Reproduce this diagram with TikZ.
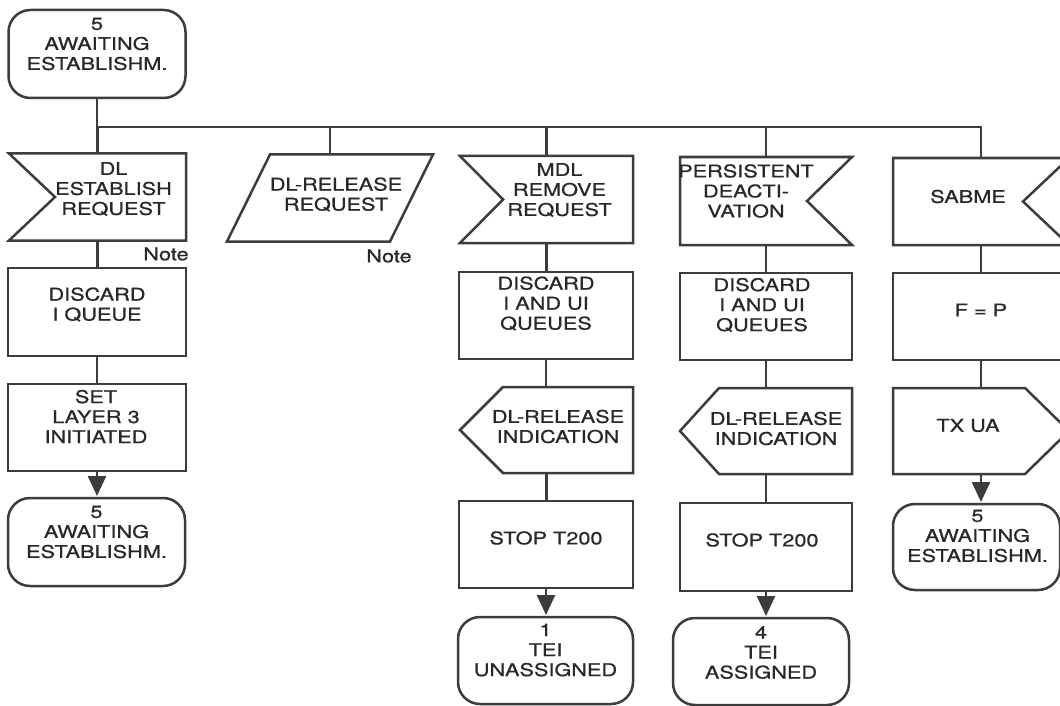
\documentclass[tikz,border=0pt]{standalone}
\usepackage{fontspec}
\setmainfont{TeX Gyre Heros}[FakeStretch=1.24,FakeBold=0.8]
\usetikzlibrary{calc,arrows.meta}
\definecolor{ink}{RGB}{40,40,40}
\definecolor{stroke}{RGB}{60,60,60}

% Outlines of the SDL symbols, drawn around a named (invisible) node.
% #1 = node name, #2 = depth of the notch / point / slant
\newcommand\notchleft[2]{\draw[ln] (#1.north west) -- (#1.north east) -- (#1.south east) -- (#1.south west) -- ($(#1.west)+(#2,0)$) -- cycle;}
\newcommand\notchright[2]{\draw[ln] (#1.north west) -- (#1.north east) -- ($(#1.east)+(-#2,0)$) -- (#1.south east) -- (#1.south west) -- cycle;}
\newcommand\pointleft[2]{\draw[ln] ($(#1.north west)+(#2,0)$) -- (#1.north east) -- (#1.south east) -- ($(#1.south west)+(#2,0)$) -- (#1.west) -- cycle;}
\newcommand\pointright[2]{\draw[ln] (#1.north west) -- ($(#1.north east)+(-#2,0)$) -- (#1.east) -- ($(#1.south east)+(-#2,0)$) -- (#1.south west) -- cycle;}
\newcommand\slanted[2]{\draw[ln] ($(#1.north west)+(#2,0)$) -- (#1.north east) -- ($(#1.south east)+(-#2,0)$) -- (#1.south west) -- cycle;}

\begin{document}
\begin{tikzpicture}[x=1pt,y=-1pt,
  ln/.style={draw=stroke, line width=2.5pt, line join=miter},
  shp/.style={rectangle, inner sep=0pt, outer sep=0pt, draw=none},
  state/.style={shp, ln, rounded corners=22pt},
  task/.style={shp, ln},
  txt/.style={align=center, inner sep=0pt, outer sep=0pt, text=ink,
              font=\fontsize{17.5}{20}\selectfont},
  flow/.style={ln},
  into/.style={ln, -{Triangle[width=18pt,length=20pt]}, shorten >=2pt},
]
\useasboundingbox (0,0) rectangle (1060,706);
\clip (0,0) rectangle (1060,706);

% ---------- symbols ----------
\node[state, minimum width=177, minimum height=88] (s0) at (97,54) {};

\node[shp, minimum width=177, minimum height=87] (i1) at (97.5,197) {};
\node[shp, minimum width=206, minimum height=87] (i2) at (330,198) {};
\node[shp, minimum width=173, minimum height=87] (i3) at (546.5,199.5) {};
\node[shp, minimum width=172, minimum height=88] (i4) at (766,201) {};
\node[shp, minimum width=176, minimum height=87] (i5) at (981,201.5) {};

\node[task, minimum width=178, minimum height=88] (d1) at (97,312) {};
\node[task, minimum width=174, minimum height=87] (d3) at (546,315.5) {};
\node[task, minimum width=172, minimum height=87] (d4) at (766,316.5) {};
\node[task, minimum width=176, minimum height=87] (d5) at (981,316.5) {};

\node[task, minimum width=178, minimum height=87] (e1) at (97,427.5) {};
\node[shp, minimum width=173, minimum height=86] (e3) at (546.5,430) {};
\node[shp, minimum width=172, minimum height=86] (e4) at (766,431) {};
\node[shp, minimum width=176, minimum height=86] (e5) at (981,431) {};

\node[state, minimum width=177, minimum height=88] (s1) at (96.5,542) {};
\node[task, minimum width=174, minimum height=87] (f3) at (546,544.5) {};
\node[task, minimum width=172, minimum height=88] (f4) at (766,547) {};
\node[state, minimum width=167, minimum height=86] (s5) at (976.5,547) {};

\node[state, minimum width=175, minimum height=87] (s3) at (545.5,660.5) {};
\node[state, minimum width=176, minimum height=87] (s4) at (761,661.5) {};

\notchleft{i1}{46}
\slanted{i2}{43}
\notchleft{i3}{43}
\notchright{i4}{45}
\notchright{i5}{46}
\pointleft{e3}{43}
\pointleft{e4}{39}
\pointright{e5}{44}

% ---------- texts ----------
\node[txt] (t-s0) at ($(s0.center)+(0,-10)$) {5\\AWAITING\\ESTABLISHM.};
\node[txt] (t-i1) at ($(i1.center)+(16,-8)$) {DL\\ESTABLISH\\REQUEST};
\node[txt] (t-i2) at ($(i2.center)+(6,-3.5)$) {DL-RELEASE\\REQUEST};
\node[txt] (t-i3) at ($(i3.center)+(13,-9.5)$) {MDL\\REMOVE\\REQUEST};
\node[txt] (t-i4) at ($(i4.center)+(-20,-10)$) {PERSISTENT\\DEACTI-\\VATION};
\node[txt] (t-i5) at ($(i5.center)+(-13,-5)$) {SABME};
\node[txt] (n1) at (166,254) {Note};
\node[txt] (n2) at (389,256) {Note};

\node[txt] (t-d1) at ($(d1.center)+(0,-7.5)$) {DISCARD\\I QUEUE};
\node[txt] (t-d3) at ($(d3.center)+(0,-12)$) {DISCARD\\I AND UI\\QUEUES};
\node[txt] (t-d4) at ($(d4.center)+(-4,-11.5)$) {DISCARD\\I AND UI\\QUEUES};
\node[txt] (t-d5) at ($(d5.center)+(0,-6.5)$) {F = P};

\node[txt] (t-e1) at ($(e1.center)+(-1,-11)$) {SET\\LAYER 3\\INITIATED};
\node[txt] (t-e3) at ($(e3.center)+(11.5,-3.5)$) {DL-RELEASE\\INDICATION};
\node[txt] (t-e4) at ($(e4.center)+(10,-2.5)$) {DL-RELEASE\\INDICATION};
\node[txt] (t-e5) at ($(e5.center)+(-13,-5.5)$) {TX UA};

\node[txt] (t-s1) at ($(s1.center)+(0,-10)$) {5\\AWAITING\\ESTABLISHM.};
\node[txt] (t-f3) at ($(f3.center)+(0,-6.5)$) {STOP T200};
\node[txt] (t-f4) at ($(f4.center)+(-4,-7)$) {STOP T200};
\node[txt] (t-s5) at ($(s5.center)+(1,-11)$) {5\\AWAITING\\ESTABLISHM.};

\node[txt] (t-s3) at ($(s3.center)+(0,-10.5)$) {1\\TEI\\UNASSIGNED};
\node[txt] (t-s4) at ($(s4.center)+(0,-9)$) {4\\TEI\\ASSIGNED};

% ---------- connectors ----------
\coordinate (bus) at (0,127);
\draw[flow] (s0.south) -- (s0.south |- bus) -| (i5.north);
\foreach \n in {i1,i2,i3,i4}
  \draw[flow] (\n.north |- bus) -- (\n.north);

\draw[flow] (i1.south) -- (i1.south |- d1.north);
\draw[flow] (d1.south) -- (d1.south |- e1.north);
\draw[into] (e1.south) -- (e1.south |- s1.north);

\draw[flow] (i3.south) -- (i3.south |- d3.north);
\draw[flow] (d3.south) -- (d3.south |- e3.north);
\draw[flow] (e3.south) -- (e3.south |- f3.north);
\draw[into] (f3.south) -- (f3.south |- s3.north);

\draw[flow] (i4.south) -- (i4.south |- d4.north);
\draw[flow] (d4.south) -- (d4.south |- e4.north);
\draw[flow] (e4.south) -- (e4.south |- f4.north);
\draw[into] (f4.south) -- (f4.south |- s4.north);

\draw[flow] (i5.south) -- (i5.south |- d5.north);
\draw[flow] (d5.south) -- (d5.south |- e5.north);
\draw[into] (e5.south) -- (e5.south |- s5.north);
\end{tikzpicture}
\end{document}
